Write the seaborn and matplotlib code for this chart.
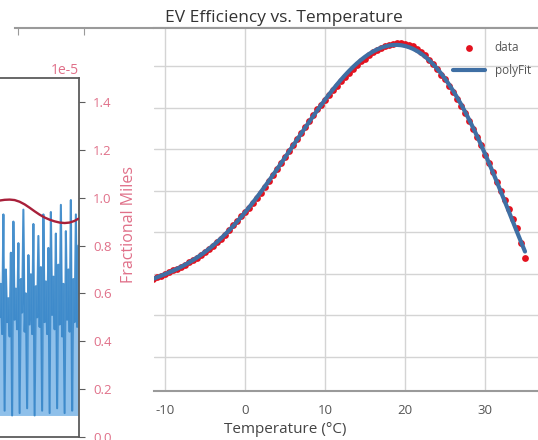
import numpy as np
import pandas as pd
import matplotlib
matplotlib.use("Agg")
import matplotlib.pyplot as plt
import seaborn as sns

# ---- data -------------------------------------------------------------
temperature_c = [
    -11.5, -11.0, -10.5, -10.0, -9.5, -9.0, -8.5, -8.0, -7.5, -7.0,
    -6.5, -6.0, -5.5, -5.0, -4.5, -4.0, -3.5, -3.0, -2.5, -2.0,
    -1.5, -1.0, -0.5, 0.0, 0.5, 1.0, 1.5, 2.0, 2.5, 3.0,
    3.5, 4.0, 4.5, 5.0, 5.5, 6.0, 6.5, 7.0, 7.5, 8.0,
    8.5, 9.0, 9.5, 10.0, 10.5, 11.0, 11.5, 12.0, 12.5, 13.0,
    13.5, 14.0, 14.5, 15.0, 15.5, 16.0, 16.5, 17.0, 17.5, 18.0,
    18.5, 19.0, 19.5, 20.0, 20.5, 21.0, 21.5, 22.0, 22.5, 23.0,
    23.5, 24.0, 24.5, 25.0, 25.5, 26.0, 26.5, 27.0, 27.5, 28.0,
    28.5, 29.0, 29.5, 30.0, 30.5, 31.0, 31.5, 32.0, 32.5, 33.0,
    33.5, 34.0, 34.5, 35.0,
]
efficiency = [
    2.975, 2.983, 2.990, 2.999, 3.007, 3.019, 3.023, 3.033, 3.043, 3.055,
    3.067, 3.076, 3.091, 3.103, 3.117, 3.134, 3.151, 3.168, 3.189, 3.211,
    3.233, 3.254, 3.276, 3.298, 3.319, 3.341, 3.367, 3.390, 3.420, 3.447,
    3.476, 3.504, 3.533, 3.562, 3.591, 3.620, 3.649, 3.678, 3.707, 3.735,
    3.762, 3.792, 3.812, 3.836, 3.860, 3.885, 3.906, 3.928, 3.947, 3.966,
    3.986, 4.005, 4.022, 4.036, 4.053, 4.067, 4.079, 4.089, 4.096, 4.103,
    4.108, 4.111, 4.111, 4.108, 4.101, 4.094, 4.082, 4.067, 4.051, 4.031,
    4.010, 3.986, 3.959, 3.937, 3.904, 3.875, 3.841, 3.808, 3.772, 3.735,
    3.697, 3.658, 3.618, 3.573, 3.533, 3.490, 3.444, 3.399, 3.355, 3.312,
    3.266, 3.221, 3.148, 3.076,
]
temp_ticks = [-10, 0, 10, 20, 30]
eff_grid = [2.6, 2.8, 3.0, 3.2, 3.4, 3.6, 3.8, 4.0]

# daily miles (left panel, primary axis)
daily_miles = [
    46, 72, 10, 88, 50, 64, 43, 93, 11, 70, 48, 58, 42, 77, 9, 90, 49, 62,
    45, 81, 10, 66, 52, 95, 44, 60, 12, 76, 47, 68, 43, 89, 9, 63, 50, 84,
    46, 71, 11, 93, 48, 65, 43, 79, 10, 94, 51, 67, 45, 85, 12, 72, 47, 97,
    42, 64, 10, 86, 49, 70, 44, 99, 11, 66, 48, 93, 46, 80,
]
miles_floor = 9
# smoothed fractional miles (left panel, twin axis)
frac_day = [0, 4, 8, 12, 16, 20, 24, 28, 32, 36, 40, 44, 48, 52, 56, 60, 64, 67]
frac_miles = [
    0.985, 0.988, 0.991, 0.992, 0.990, 0.983, 0.972, 0.958, 0.943,
    0.929, 0.917, 0.908, 0.901, 0.896, 0.894, 0.896, 0.903, 0.912,
]
frac_ticks = [0.0, 0.2, 0.4, 0.6, 0.8, 1.0, 1.2, 1.4]

# ---- style ------------------------------------------------------------
sns.set_style("white")
plt.rcParams["font.family"] = ["Open Sans", "DejaVu Sans"]
plt.rcParams["axes.unicode_minus"] = False

W, H = 538, 440
fig = plt.figure(figsize=(W / 100, H / 100), dpi=100)


def box(l, t, r, b):
    return [l / W, 1 - b / H, (r - l) / W, (b - t) / H]


GRID = "#d4d4d4"
SPINE = "#9a9a9a"
PINK = "#e07089"

# outer frame behind the panels
bg = fig.add_axes(box(15, 28, 560, 437), zorder=0)
bg.set_facecolor("none")
for s in ("left", "right", "bottom"):
    bg.spines[s].set_visible(False)
bg.spines["top"].set_color(SPINE)
bg.spines["top"].set_linewidth(1.5)
bg.xaxis.tick_top()
bg.set_xlim(0, 545)
bg.set_xticks([3, 69])
bg.tick_params(axis="x", direction="in", length=5, color=SPINE,
               labeltop=False, labelbottom=False)
bg.set_yticks([])

# ---- left panel: daily miles + fractional miles -------------------------
left = fig.add_axes(box(-6, 78, 79, 437), zorder=1)
miles_df = pd.DataFrame({"day": np.arange(len(daily_miles)), "miles": daily_miles})
left.fill_between(miles_df["day"], miles_floor, miles_df["miles"],
                  color="#8fc0ea", alpha=1.0, lw=0)
sns.lineplot(data=miles_df, x="day", y="miles", ax=left, color="#3585c8",
             lw=1.5, alpha=0.9, sort=False)
left.set_xlim(-0.5, len(daily_miles) - 0.5)
left.set_ylim(0, 150)
left.set_xlabel("")
left.set_ylabel("")
left.set_xticks([12.3])
left.tick_params(axis="x", direction="out", length=3.5, color="#555",
                 labelbottom=False)
left.tick_params(axis="y", left=False, labelleft=False)
for s in ("top", "right", "bottom"):
    left.spines[s].set_color("#5c5c5c")
    left.spines[s].set_linewidth(1.3)
left.spines["left"].set_visible(False)

twin = left.twinx()
frac_df = pd.DataFrame({"day": frac_day, "frac": np.array(frac_miles) * 1e-5})
sns.lineplot(data=frac_df, x="day", y="frac", ax=twin, color="#a8203a", lw=1.7)
twin.set_ylim(0, 1.5e-5)
twin.set_yticks(np.array(frac_ticks) * 1e-5)
twin.tick_params(axis="y", direction="out", length=4, color="#5c5c5c",
                 labelcolor=PINK, labelsize=9.5, pad=6)
twin.yaxis.get_offset_text().set_color(PINK)
twin.yaxis.get_offset_text().set_fontsize(10)
twin.set_ylabel("Fractional Miles", color=PINK, fontsize=11.5)
twin.yaxis.set_label_coords(1.50, 0.593)
for s in twin.spines.values():
    s.set_visible(False)

# ---- right panel: efficiency vs temperature ----------------------------
ax = fig.add_axes(box(154, 28, 560, 391), zorder=2)
ax.set_facecolor("white")
eff_df = pd.DataFrame({"temp": temperature_c, "eff": efficiency})
coef = np.polyfit(eff_df["temp"], eff_df["eff"], 6)
eff_df["fit"] = np.polyval(coef, eff_df["temp"])

sns.scatterplot(data=eff_df, x="temp", y="eff", ax=ax, color="#e3121f",
                s=24, linewidth=0, label="data", zorder=3)
sns.lineplot(data=eff_df, x="temp", y="fit", ax=ax, color="#3f6fa4",
             lw=3, label="polyFit", zorder=4)

ax.set_xlim(-11.375, 39.375)
ax.set_ylim(2.436, 4.183)
ax.set_xticks(temp_ticks)
ax.set_yticks(eff_grid)
ax.grid(True, color=GRID, lw=1)
ax.tick_params(axis="y", left=False, labelleft=False)
ax.tick_params(axis="x", direction="out", length=4, color=SPINE,
               labelcolor="#555", labelsize=9.5, pad=5)
ax.spines["left"].set_visible(False)
ax.spines["right"].set_visible(False)
for s in ("top", "bottom"):
    ax.spines[s].set_color(SPINE)
    ax.spines[s].set_linewidth(1.5)

ax.set_title("EV Efficiency vs. Temperature", x=0.32, fontsize=12.5,
             color="#333", pad=4.5)
ax.set_xlabel("Temperature (°C)", fontsize=11, color="#444")
ax.xaxis.set_label_coords(0.3227, -0.085)
ax.set_ylabel("")

leg = ax.legend(loc="upper left", bbox_to_anchor=(448 / W, 1 - 36 / H),
                bbox_transform=fig.transFigure, frameon=False, fontsize=8.5,
                handlelength=2.7, handletextpad=0.85, labelspacing=0.85,
                labelcolor="#555", borderaxespad=0)

fig.savefig("out.png", dpi=100)
